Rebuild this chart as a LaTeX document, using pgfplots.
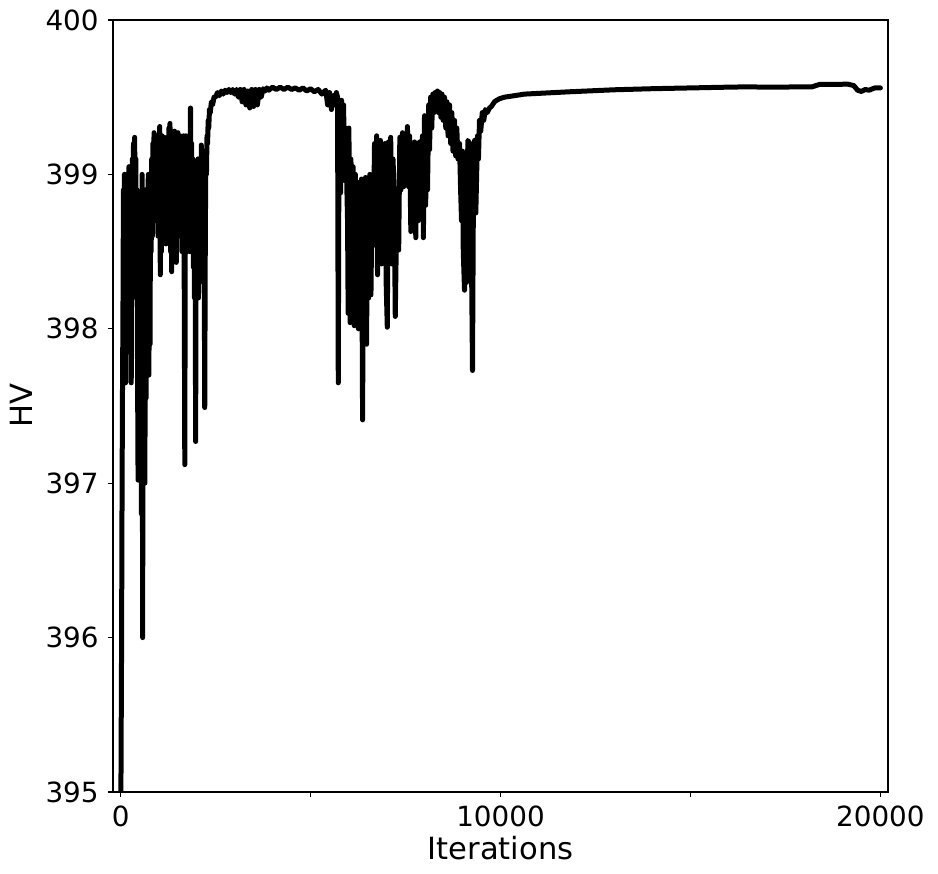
\documentclass[border=0pt]{standalone}
\usepackage{pgfplots}
\pgfplotsset{compat=1.18}
\usepackage{fontspec}
\setmainfont{DejaVu Sans}
\begin{document}
\fontsize{27.8}{33}\selectfont
\begin{tikzpicture}
\useasboundingbox (-113pt,-82pt) rectangle (825pt,792pt);
\begin{axis}[
  at={(0,0)}, anchor=south west,
  scale only axis, width=775pt, height=772pt,
  xmin=-200, xmax=20200, ymin=395, ymax=400,
  xtick={0,5000,10000,15000,20000},
  xticklabels={0,,10000,,20000},
  scaled x ticks=false, scaled y ticks=false,
  ytick={395,396,397,398,399,400},
  yticklabels={395,396,397,398,399,400},
  xtick pos=left, ytick pos=left,
  tick align=outside, major tick length=4.9pt,
  every tick/.style={black, line width=1.1pt},
  axis line style={black, line width=1.1pt},
  /pgf/number format/assume math mode=true,
  ticklabel style={font=\fontsize{27.8}{33}\selectfont},
  label style={font=\fontsize{30.6}{36}\selectfont},
  xlabel style={yshift=10pt},
  ylabel style={yshift=-6pt},
  xlabel={Iterations}, ylabel={HV},
  clip=true,
]
\addplot[black, line width=5pt, line join=round, line cap=round] table {
x y
0 394.5
12 395.2
25 395.9
38 396.9
50 397.6
62 398.1
75 398.9
88 398.3
100 399.0
115 398.5
130 397.65
145 398.8
160 399.0
175 398.4
190 398.95
205 398.6
220 399.05
235 398.5
250 398.95
265 398.1
280 397.65
295 398.7
310 399.1
325 398.6
340 399.2
355 398.9
370 399.24
385 398.7
400 399.1
415 398.2
430 398.9
445 397.8
460 397.02
475 398.4
490 397.6
505 398.8
520 397.4
535 398.6
550 396.8
565 399.0
580 396.0
595 398.2
610 397.3
625 398.5
640 397.0
655 398.9
670 397.55
685 398.4
700 397.7
715 398.8
730 399.0
745 397.7
760 398.6
775 397.9
790 399.0
805 398.5
820 399.1
835 398.6
850 399.2
865 398.7
880 399.27
895 398.9
910 399.22
925 398.7
940 399.25
955 398.8
970 399.1
985 398.6
1000 399.2
1015 398.9
1030 399.31
1045 398.35
1060 399.1
1075 398.5
1090 399.25
1105 398.7
1120 399.2
1135 398.6
1150 399.24
1165 398.8
1180 399.2
1195 398.55
1210 399.0
1225 398.6
1240 399.24
1255 398.7
1270 399.3
1285 398.8
1300 399.33
1315 398.5
1330 399.2
1345 398.37
1360 399.1
1375 398.6
1390 399.25
1405 398.45
1420 399.28
1435 398.7
1450 399.2
1465 398.43
1480 399.1
1495 398.6
1510 399.27
1525 398.8
1540 399.2
1555 398.6
1570 399.25
1585 398.9
1600 399.1
1615 398.5
1630 399.2
1645 398.7
1660 399.25
1675 398.3
1690 397.12
1705 398.9
1720 399.25
1735 398.6
1750 399.1
1765 398.5
1780 399.2
1795 398.7
1810 399.0
1825 398.5
1840 399.43
1855 398.9
1870 399.2
1885 398.6
1900 399.1
1915 398.4
1930 399.0
1945 398.2
1960 398.9
1975 397.27
1990 398.7
2005 399.0
2020 398.5
2035 399.1
2050 398.2
2065 398.9
2080 398.3
2095 399.1
2110 398.6
2125 399.19
2140 398.4
2155 399.1
2170 398.6
2185 399.15
2200 398.5
2215 397.49
2230 398.6
2245 399.15
2260 399.0
2275 399.25
2290 399.2
2305 399.35
2320 399.3
2340 399.42
2360 399.4
2390 399.47
2420 399.45
2460 399.5
2500 399.50
2550 399.53
2600 399.51
2650 399.54
2700 399.52
2750 399.545
2800 399.53
2850 399.55
2900 399.53
2950 399.55
3000 399.52
3050 399.55
3100 399.50
3150 399.55
3200 399.47
3250 399.55
3300 399.45
3350 399.54
3400 399.43
3450 399.55
3500 399.44
3550 399.55
3600 399.45
3650 399.55
3700 399.50
3750 399.555
3800 399.54
3850 399.56
3900 399.545
4000 399.565
4100 399.55
4200 399.565
4300 399.55
4400 399.565
4500 399.55
4600 399.56
4700 399.545
4800 399.56
4900 399.54
5000 399.555
5100 399.535
5200 399.55
5300 399.52
5400 399.545
5450 399.45
5500 399.53
5550 399.42
5600 399.51
5640 399.45
5680 399.53
5711 399.50
5730 397.65
5750 399.45
5790 398.88
5816 399.48
5840 399.05
5870 399.45
5895 398.96
5920 399.3
5950 398.98
5974 398.7
5990 398.1
6010 399.3
6040 398.04
6060 399.1
6090 398.96
6120 399.05
6150 398.02
6180 399.0
6210 398.5
6237 398.95
6260 398.0
6290 398.95
6320 398.5
6342 398.97
6370 397.41
6395 398.9
6420 398.6
6447 398.98
6475 397.9
6500 398.95
6530 398.2
6560 399.0
6590 398.22
6620 398.9
6650 398.54
6684 399.2
6710 398.6
6740 399.25
6763 398.35
6790 399.2
6816 398.6
6840 399.22
6868 398.42
6900 399.18
6930 398.87
6960 399.2
6990 398.3
7020 398.01
7050 399.21
7080 398.6
7110 399.24
7140 398.42
7170 399.1
7200 398.9
7230 398.08
7260 398.6
7289 398.9
7320 398.51
7350 399.24
7380 398.9
7420 399.27
7450 398.92
7480 399.2
7510 398.95
7550 399.31
7580 398.92
7605 399.25
7640 398.63
7670 399.0
7700 398.9
7737 399.21
7770 398.59
7800 399.2
7830 398.7
7868 399.21
7900 398.75
7947 399.25
7970 398.59
8000 399.38
8030 398.8
8060 399.3
8079 398.9
8110 399.45
8132 399.16
8160 399.5
8190 399.3
8220 399.52
8250 399.4
8280 399.53
8310 399.42
8340 399.54
8370 399.40
8400 399.53
8430 399.37
8460 399.52
8490 399.35
8526 399.50
8560 399.3
8590 399.47
8620 399.25
8658 399.45
8690 399.2
8720 399.4
8750 399.15
8789 399.35
8820 399.12
8850 399.3
8880 399.1
8921 399.2
8950 398.9
8974 398.7
9000 399.15
9020 398.5
9053 398.25
9080 398.9
9105 398.3
9140 399.22
9184 399.2
9220 398.9
9263 397.73
9290 399.0
9316 399.22
9350 398.75
9395 399.25
9420 399.1
9447 399.35
9480 399.28
9520 399.4
9560 399.35
9600 399.42
9650 399.40
9711 399.43
9760 399.44
9842 399.47
9900 399.48
9974 399.49
10100 399.50
10237 399.505
10632 399.52
11816 399.535
13000 399.548
14000 399.555
15000 399.56
16000 399.565
16500 399.567
17000 399.565
18200 399.567
18400 399.583
19150 399.584
19300 399.575
19400 399.545
19500 399.537
19600 399.55
19700 399.545
19850 399.56
20000 399.56
};
\end{axis}
\end{tikzpicture}
\end{document}
